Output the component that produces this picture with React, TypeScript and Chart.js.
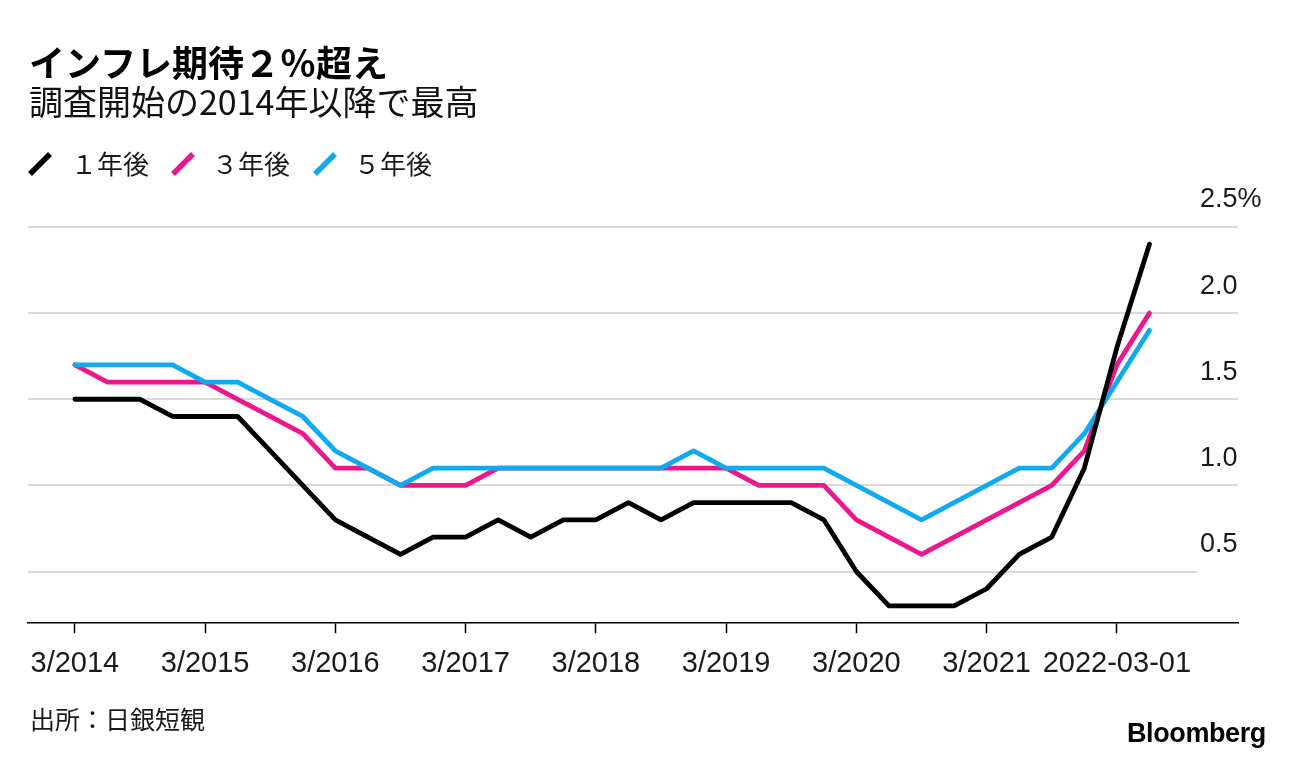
import React, { useEffect, useRef } from "react";
import { Chart, registerables } from "chart.js";

Chart.register(...registerables);

// Quarterly survey dates (Tankan), 3/2014 .. 6/2022
const quarters = [
  "2014-03", "2014-06", "2014-09", "2014-12",
  "2015-03", "2015-06", "2015-09", "2015-12",
  "2016-03", "2016-06", "2016-09", "2016-12",
  "2017-03", "2017-06", "2017-09", "2017-12",
  "2018-03", "2018-06", "2018-09", "2018-12",
  "2019-03", "2019-06", "2019-09", "2019-12",
  "2020-03", "2020-06", "2020-09", "2020-12",
  "2021-03", "2021-06", "2021-09", "2021-12",
  "2022-03", "2022-06",
];

const oneYear = [
  1.5, 1.5, 1.5, 1.4, 1.4, 1.4, 1.2, 1.0, 0.8, 0.7, 0.6, 0.7,
  0.7, 0.8, 0.7, 0.8, 0.8, 0.9, 0.8, 0.9, 0.9, 0.9, 0.9, 0.8,
  0.5, 0.3, 0.3, 0.3, 0.4, 0.6, 0.7, 1.1, 1.8, 2.4,
];
const threeYear = [
  1.7, 1.6, 1.6, 1.6, 1.6, 1.5, 1.4, 1.3, 1.1, 1.1, 1.0, 1.0,
  1.0, 1.1, 1.1, 1.1, 1.1, 1.1, 1.1, 1.1, 1.1, 1.0, 1.0, 1.0,
  0.8, 0.7, 0.6, 0.7, 0.8, 0.9, 1.0, 1.2, 1.7, 2.0,
];
const fiveYear = [
  1.7, 1.7, 1.7, 1.7, 1.6, 1.6, 1.5, 1.4, 1.2, 1.1, 1.0, 1.1,
  1.1, 1.1, 1.1, 1.1, 1.1, 1.1, 1.1, 1.2, 1.1, 1.1, 1.1, 1.1,
  1.0, 0.9, 0.8, 0.9, 1.0, 1.1, 1.1, 1.3, 1.6, 1.9,
];

const seriesNames = ["１年後", "３年後", "５年後"];
const seriesColors = ["#000000", "#EE168C", "#0FAAF0"];

const xTickIndexes = [0, 4, 8, 12, 16, 20, 24, 28, 32];
const xTickLabels = [
  "3/2014", "3/2015", "3/2016", "3/2017", "3/2018",
  "3/2019", "3/2020", "3/2021", "2022-03-01",
];
const yTickValues = [0.5, 1.0, 1.5, 2.0, 2.5];
const yTickLabels = ["0.5", "1.0", "1.5", "2.0", "2.5%"];

const NUM_FONT = "'Liberation Sans', Arial, sans-serif";
const CJK_FONT = "'Noto Sans CJK JP', 'Noto Sans', sans-serif";

const yAxisPlugin = {
  id: "yAxisCustom",
  beforeDatasetsDraw(chart: any) {
    const { ctx, chartArea, scales } = chart;
    const ys = scales.y;
    ctx.save();
    ctx.strokeStyle = "#dadada";
    ctx.lineWidth = 2;
    yTickValues.forEach((v, i) => {
      const y = Math.round(ys.getPixelForValue(v));
      const right = i === 0 ? chartArea.right - 41 : chartArea.right;
      ctx.beginPath();
      ctx.moveTo(chartArea.left, y);
      ctx.lineTo(right, y);
      ctx.stroke();
    });
    ctx.restore();
  },
  afterDraw(chart: any) {
    const { ctx, chartArea, scales } = chart;
    const ys = scales.y;
    ctx.save();
    ctx.fillStyle = "#1a1a1a";
    ctx.font = `27px ${NUM_FONT}`;
    ctx.textAlign = "left";
    ctx.textBaseline = "middle";
    yTickValues.forEach((v, i) => {
      const y = ys.getPixelForValue(v);
      ctx.fillText(yTickLabels[i], chartArea.right - 38, y - 27);
    });
    ctx.restore();
  },
};

function LegendIcon({ color }: { color: string }) {
  return (
    <svg width="28" height="28" style={{ display: "block" }}>
      <line x1="4" y1="24" x2="24" y2="4" stroke={color} strokeWidth="5.5" />
    </svg>
  );
}

export default function App() {
  const canvasRef = useRef<HTMLCanvasElement | null>(null);

  useEffect(() => {
    const canvas = canvasRef.current;
    if (!canvas) return;
    const mk = (vals: number[], idx: number, order: number) => ({
      label: seriesNames[idx],
      data: vals.map((v, i) => ({ x: i, y: v })),
      borderColor: seriesColors[idx],
      backgroundColor: seriesColors[idx],
      borderWidth: 4.8,
      pointRadius: 0,
      tension: 0,
      borderCapStyle: "round" as const,
      borderJoinStyle: "round" as const,
      order,
    });
    const chart = new Chart(canvas, {
      type: "line",
      data: {
        datasets: [mk(oneYear, 0, 0), mk(threeYear, 1, 2), mk(fiveYear, 2, 1)],
      },
      options: {
        animation: false,
        responsive: false,
        maintainAspectRatio: false,
        devicePixelRatio: 1,
        layout: { padding: { left: 28, right: 58, top: 227, bottom: 66 } },
        plugins: {
          legend: { display: false },
          tooltip: { enabled: false },
          title: { display: false },
        },
        scales: {
          x: {
            type: "linear",
            min: -1.44,
            max: 35.72,
            afterBuildTicks: (scale: any) => {
              scale.ticks = xTickIndexes.map((v) => ({ value: v }));
            },
            grid: {
              display: true,
              drawOnChartArea: false,
              drawTicks: true,
              tickLength: 10,
              tickWidth: 1.5,
              tickColor: "#000",
            },
            border: { display: true, color: "#000", width: 1.5 },
            ticks: {
              autoSkip: false,
              maxRotation: 0,
              minRotation: 0,
              padding: 13,
              color: "#1a1a1a",
              font: { family: NUM_FONT, size: 29 },
              callback: (value: any) => {
                const k = xTickIndexes.indexOf(Number(value));
                return k >= 0 ? xTickLabels[k] : "";
              },
            },
          },
          y: {
            type: "linear",
            display: false,
            min: 0.2,
            max: 2.5,
          },
        },
      },
      plugins: [yAxisPlugin],
    });
    return () => chart.destroy();
  }, []);

  const textBase: React.CSSProperties = {
    position: "absolute",
    margin: 0,
    lineHeight: 1,
    whiteSpace: "nowrap",
    color: "#111",
  };

  return (
    <div
      style={{
        position: "fixed",
        left: 0,
        top: 0,
        width: 1296,
        height: 760,
        background: "#fff",
        overflow: "hidden",
      }}
    >
      <canvas
        ref={canvasRef}
        width={1296}
        height={760}
        style={{ position: "absolute", left: 0, top: 0, width: 1296, height: 760 }}
      />
      <div
        style={{
          ...textBase,
          left: 29,
          top: 43,
          fontFamily: CJK_FONT,
          fontWeight: 700,
          fontSize: 36,
          color: "#000",
        }}
      >
        インフレ期待２％超え
      </div>
      <div
        style={{
          ...textBase,
          left: 29,
          top: 84,
          fontFamily: CJK_FONT,
          fontWeight: 400,
          fontSize: 34,
        }}
      >
        調査開始の2014年以降で最高
      </div>
      {seriesNames.map((name, i) => {
        const iconX = [26, 169, 311][i];
        const textX = [71, 212, 354][i];
        return (
          <React.Fragment key={name}>
            <div style={{ position: "absolute", left: iconX, top: 150 }}>
              <LegendIcon color={seriesColors[i]} />
            </div>
            <div
              style={{
                ...textBase,
                left: textX,
                top: 150,
                fontFamily: CJK_FONT,
                fontSize: 26,
                color: "#1a1a1a",
              }}
            >
              {name}
            </div>
          </React.Fragment>
        );
      })}
      <div
        style={{
          ...textBase,
          left: 30,
          top: 706,
          fontFamily: CJK_FONT,
          fontSize: 25,
          color: "#1a1a1a",
        }}
      >
        出所：日銀短観
      </div>
      <div
        style={{
          ...textBase,
          left: 1127,
          top: 720,
          fontFamily: NUM_FONT,
          fontWeight: 700,
          fontSize: 27,
          letterSpacing: -0.4,
          color: "#000",
        }}
      >
        Bloomberg
      </div>
    </div>
  );
}
